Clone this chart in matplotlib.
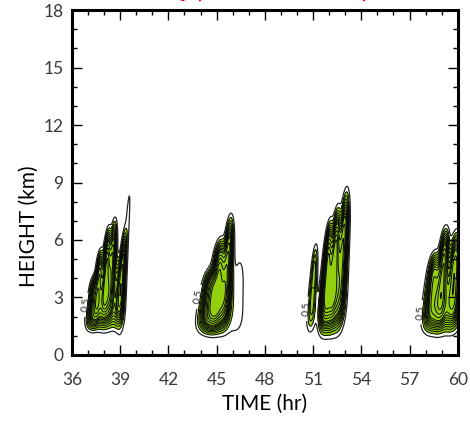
import numpy as np
import matplotlib
matplotlib.use("Agg")
import matplotlib.pyplot as plt
from matplotlib.ticker import MultipleLocator

# convective cells: centre time (hr), base / top (km),
# half width in time (hr) and peak value
cell_time = [37.3, 37.65, 38.1, 38.45, 38.8, 39.1, 39.3,
             44.55, 45.1, 45.65, 46.3,
             51.0, 51.85, 52.3, 52.8,
             58.45, 59.05, 59.75]
cell_base = [1.2, 1.3, 1.2, 1.3, 1.3, 1.5, 1.5,
             1.0, 1.0, 1.2, 1.3,
             1.2, 0.9, 0.9, 1.0,
             1.0, 1.0, 1.0]
cell_top = [4.2, 5.6, 6.8, 7.2, 5.2, 6.6, 8.3,
            4.6, 6.2, 7.4, 4.8,
            5.8, 7.2, 7.9, 8.8,
            5.5, 6.8, 6.6]
cell_width = [0.2, 0.16, 0.16, 0.16, 0.22, 0.13, 0.14,
              0.33, 0.28, 0.2, 0.4,
              0.15, 0.18, 0.2, 0.2,
              0.28, 0.22, 0.28]
cell_peak = [4, 7, 9, 7, 3, 5, 0.8,
             6, 9, 7, 0.75,
             2.5, 9, 10, 7,
             6, 8, 7]

contour_levels = [0.5, 1, 1.5, 2, 2.5, 3, 3.5, 4, 4.5, 5, 6, 7, 8, 9]
x_ticks = [36, 39, 42, 45, 48, 51, 54, 57, 60]
y_ticks = [0, 3, 6, 9, 12, 15, 18]
label_pos = [(37.0, 2.6), (44.1, 3.0), (50.65, 2.4), (58.0, 2.2)]

# build the field from the cells
t = np.linspace(36, 60, 961)
z = np.linspace(0, 18, 361)
T, Z = np.meshgrid(t, z)
field = np.zeros_like(T)
for tc, zb, zt, w, pk in zip(cell_time, cell_base, cell_top, cell_width, cell_peak):
    zc = 0.5 * (zb + zt)
    hs = (zt - zc) / np.log(2 * pk) ** 0.25
    frac = np.clip((Z - zb) / (zt - zb), 0, 1)
    ww = w * (1.25 - 0.6 * frac)
    tcz = tc + 0.08 * (Z - zc)
    field += pk * np.exp(-((Z - zc) / hs) ** 4) * np.exp(-0.5 * ((T - tcz) / ww) ** 2)

plt.rcParams['font.family'] = ['Lato', 'DejaVu Sans']

fig = plt.figure(figsize=(4.7, 4.21), dpi=100)
ax = fig.add_axes([0.153, 0.157, 0.821, 0.819])

ax.contourf(T, Z, field, levels=[1.0, 100], colors=['#92cf0c'])
ax.contour(T, Z, field, levels=contour_levels[1:], colors='#0a0a0a', linewidths=0.7)
outer = ax.contour(T, Z, field, levels=contour_levels[:1], colors='#222222', linewidths=0.9)
ax.clabel(outer, fmt='%.1f', fontsize=7.5, colors='#222222', manual=label_pos, inline=True)

ax.set_xlim(36, 60)
ax.set_ylim(0, 18)
ax.set_xticks(x_ticks)
ax.set_yticks(y_ticks)
ax.xaxis.set_minor_locator(MultipleLocator(1))
ax.yaxis.set_minor_locator(MultipleLocator(1))
ax.tick_params(which='both', direction='in', top=True, right=True,
               labelsize=12.5, labelcolor='#3a3a3a', width=1.0)
ax.tick_params(which='major', length=7)
ax.tick_params(which='minor', length=3.5)
ax.tick_params(axis='x', which='major', pad=12)
ax.tick_params(axis='y', which='major', pad=6)
for sp in ax.spines.values():
    sp.set_linewidth(2.2)

ax.set_xlabel('TIME (hr)', fontsize=15)
ax.set_ylabel('HEIGHT (km)', fontsize=15)
ax.yaxis.set_label_coords(-0.085, 0.374)
ax.xaxis.set_label_coords(0.5, -0.113)

# title sits mostly above the canvas in the reference
fig.text(0.57, 1.022, 'Q  (CONTROL RUN)', color='red', fontsize=16,
         fontweight='bold', ha='center', va='center')

fig.savefig('out.png', dpi=100)
